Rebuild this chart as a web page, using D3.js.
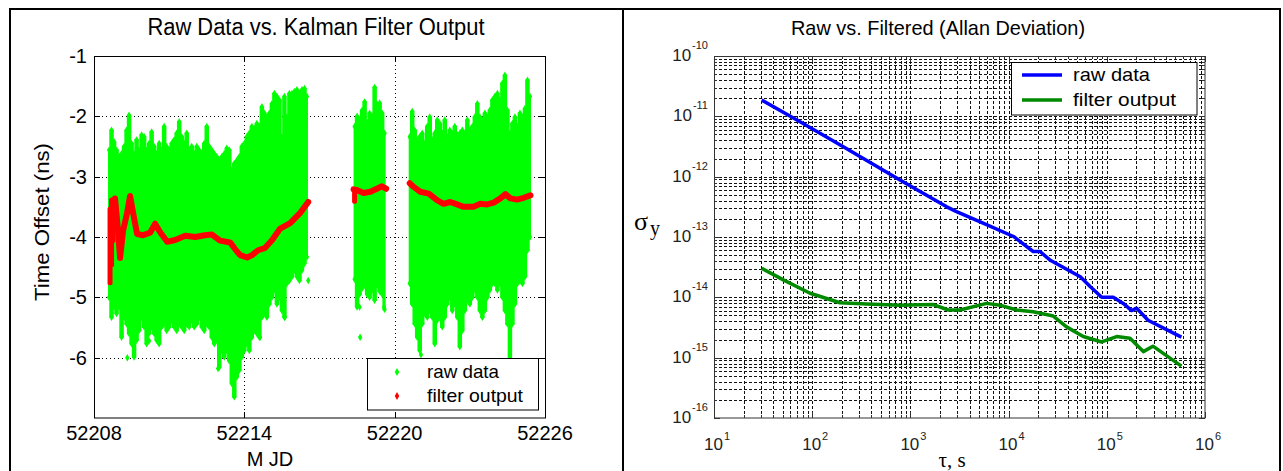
<!DOCTYPE html>
<html><head><meta charset="utf-8">
<script src="https://cdn.jsdelivr.net/npm/d3@7"></script>
<style>
body{margin:0;background:#fff;}
svg{display:block;font-family:Arial,"Liberation Sans",Helvetica,sans-serif;}
</style>
</head><body>
<svg id="c" width="1283" height="471"></svg>
<script>
// ---------- LEFT CHART DATA ----------
const xTicksL = [52208, 52214, 52220, 52226];
const yTicksL = [-6, -5, -4, -3, -2, -1];

// raw data envelope (MJD, upper value, lower value) in ns
const rawMjd = [
 52208.6,52208.7,52208.8,52208.9,
 52209.0,52209.1,52209.2,52209.3,52209.4,52209.5,52209.6,52209.7,52209.8,52209.9,
 52210.0,52210.1,52210.2,52210.3,52210.4,52210.5,52210.6,52210.7,52210.8,52210.9,
 52211.0,52211.1,52211.2,52211.3,52211.4,52211.5,52211.6,52211.7,52211.8,52211.9,
 52212.0,52212.1,52212.2,52212.3,52212.4,52212.5,52212.6,52212.7,52212.8,52212.9,
 52213.0,52213.1,52213.2,52213.3,52213.4,52213.5,52213.6,52213.7,52213.8,52213.9,
 52214.0,52214.1,52214.2,52214.3,52214.4,52214.5,52214.6,52214.7,52214.8,52214.9,
 52215.0,52215.1,52215.2,52215.3,52215.4,52215.5,52215.6,52215.7,52215.8,52215.9,
 52216.0,52216.1,52216.2,52216.3,52216.4,52216.5,
 52218.4,52218.5,52218.6,52218.7,52218.8,52218.9,52219.0,52219.1,52219.2,52219.3,52219.4,52219.5,52219.6,
 52220.6,52220.7,52220.8,52220.9,
 52221.0,52221.1,52221.2,52221.3,52221.4,52221.5,52221.6,52221.7,52221.8,52221.9,
 52222.0,52222.1,52222.2,52222.3,52222.4,52222.5,52222.6,52222.7,52222.8,52222.9,
 52223.0,52223.1,52223.2,52223.3,52223.4,52223.5,52223.6,52223.7,52223.8,52223.9,
 52224.0,52224.1,52224.2,52224.3,52224.4,52224.5,52224.6,52224.7,52224.8,52224.9,
 52225.0,52225.1,52225.2,52225.3,52225.4
];
const rawHi = [
 -2.56,-2.23,-2.42,-2.56,
 -2.67,-2.62,-2.50,-2.23,-1.98,-2.45,-2.62,-2.39,-2.56,-2.31,
 -2.34,-2.56,-2.45,-2.26,-2.50,-2.62,-2.45,-2.56,-2.17,-2.50,
 -2.56,-2.45,-2.39,-2.28,-2.09,-2.34,-2.45,-2.28,-2.56,-2.50,
 -2.62,-2.50,-2.56,-2.62,-2.45,-2.17,-2.50,-2.56,-2.62,-2.67,
 -2.73,-2.67,-2.62,-2.53,-2.56,-2.89,-2.78,-2.73,-2.67,-2.50,
 -2.45,-2.34,-2.28,-2.17,-2.20,-2.12,-2.17,-1.84,-1.95,-2.01,
 -1.95,-1.79,-1.62,-1.67,-1.73,-2.34,-1.67,-2.01,-1.62,-1.62,
 -1.59,-1.56,-1.62,-1.56,-1.54,-1.67,
 -2.17,-2.00,-2.06,-1.90,-1.76,-2.10,-1.95,-2.00,-1.52,-1.80,-1.78,-1.95,-2.28,
 -2.34,-1.92,-2.23,-2.39,
 -2.34,-2.28,-2.45,-2.17,-2.01,-2.39,-2.28,-2.06,-2.12,-2.28,
 -2.06,-2.34,-2.23,-2.28,-2.17,-2.31,-2.28,-2.23,-2.28,-2.06,
 -2.23,-2.17,-2.01,-1.79,-2.01,-2.06,-1.95,-2.01,-1.90,-1.73,
 -1.67,-1.62,-1.73,-1.45,-1.32,-1.90,-2.28,-2.12,-2.01,-2.17,
 -1.95,-2.01,-1.87,-1.40,-1.67
];
const rawLo = [
 -5.00,-5.33,-5.16,-5.27,
 -5.16,-5.66,-5.33,-5.44,-5.60,-5.77,-5.99,-5.71,-5.55,-5.33,
 -5.49,-5.77,-5.60,-5.49,-5.60,-5.71,-5.77,-5.49,-5.44,-5.55,
 -5.49,-5.38,-5.49,-5.55,-5.44,-5.49,-5.55,-5.44,-5.49,-5.38,
 -5.49,-5.44,-5.33,-5.49,-5.55,-5.44,-5.49,-5.66,-5.77,-5.71,
 -6.16,-5.88,-5.99,-5.88,-6.05,-6.43,-6.65,-6.32,-6.21,-5.99,
 -5.88,-5.77,-5.88,-5.66,-5.55,-5.60,-5.66,-5.33,-5.27,-5.33,
 -5.11,-5.00,-4.88,-5.11,-5.00,-5.22,-5.33,-4.77,-4.72,-4.66,
 -4.55,-4.66,-4.72,-4.55,-4.44,-4.33,
 -4.70,-5.16,-4.95,-4.85,-4.80,-4.95,-5.00,-4.88,-5.05,-4.80,-4.90,-4.95,-5.20,
 -4.77,-5.11,-5.44,-5.66,
 -5.88,-5.44,-5.27,-5.33,-5.22,-5.33,-5.77,-5.38,-5.33,-5.49,
 -5.33,-5.11,-5.00,-5.22,-5.11,-5.33,-5.82,-5.55,-5.22,-5.05,
 -5.11,-5.00,-4.88,-5.00,-5.22,-5.33,-5.22,-5.00,-4.88,-4.77,
 -4.77,-4.88,-4.77,-5.00,-5.22,-5.44,-5.99,-5.44,-5.11,-4.77,
 -4.72,-4.77,-4.66,-4.22,-4.00
];
// isolated raw points
const outMjd = [52209.33, 52210.2, 52212.95, 52214.63, 52215.62, 52216.55, 52218.62, 52218.6, 52219.58, 52221.05];
const outVal = [-6.00, -5.72, -6.18, -5.66, -5.33, -4.72, -5.66, -5.16, -5.16, -5.95];

// Kalman filter output (null = data gap)
const filtMjd = [
 52208.84,52208.96,52209.04,52209.16,52209.32,52209.44,52209.56,52209.72,52209.96,52210.24,
 52210.44,52210.64,52210.92,52211.24,52211.64,52212.04,52212.43,52212.71,52213.03,52213.43,
 52213.63,52213.83,52214.11,52214.31,52214.55,52214.83,52215.11,52215.43,52215.83,52216.23,52216.55,
 null,
 52218.36,52218.49,52218.76,52219.03,52219.29,52219.49,52219.66,
 null,
 52220.60,52220.76,52221.02,52221.36,52221.69,52221.95,52222.22,52222.49,52222.75,52223.15,
 52223.42,52223.69,52223.95,52224.22,52224.42,52224.62,52224.88,52225.15,52225.42
];
const filtVal = [
 -3.36,-3.90,-4.35,-3.90,-3.60,-3.32,-3.60,-3.95,-3.97,-3.93,
 -3.78,-3.92,-4.08,-4.05,-3.98,-4.00,-3.97,-3.96,-4.06,-4.09,
 -4.20,-4.30,-4.34,-4.30,-4.22,-4.18,-4.05,-3.86,-3.77,-3.60,-3.42,
 null,
 -3.21,-3.22,-3.27,-3.25,-3.20,-3.16,-3.20,
 null,
 -3.11,-3.17,-3.25,-3.28,-3.39,-3.45,-3.42,-3.46,-3.50,-3.50,
 -3.45,-3.46,-3.43,-3.36,-3.29,-3.36,-3.38,-3.35,-3.31
];
// filter start-up transient spread
const spanMjd = [52208.64, 52208.70, 52208.76, 52218.40];
const spanHi  = [-3.50, -3.35, -3.34, -3.20];
const spanLo  = [-4.80, -4.50, -4.10, -3.45];

// ---------- RIGHT CHART DATA ----------
const tauRaw = [30.6, 75.2, 207.5, 783, 2344, 2951, 5495, 11220, 17780, 20890, 26300, 53700, 67600, 88700, 116400, 147200, 179100, 201400, 263000, 575400];
const sigRaw = [1.86e-11, 8.13e-12, 3.14e-12, 8.81e-13, 3.16e-13, 2.63e-13, 1.70e-13, 1.02e-13, 5.75e-14, 5.75e-14, 4.17e-14, 2.19e-14, 1.51e-14, 1.0e-14, 1.0e-14, 7.94e-15, 6.03e-15, 6.61e-15, 4.17e-15, 2.19e-15];
const tauFilt = [30.6, 50.8, 95.1, 191.9, 358.9, 783, 1710, 2432, 3199, 5984, 8166, 12080, 17780, 28510, 38900, 57540, 88700, 125900, 172200, 235500, 295100, 575400];
const sigFilt = [3.02e-14, 1.95e-14, 1.17e-14, 8.13e-15, 7.76e-15, 7.41e-15, 7.59e-15, 6.17e-15, 6.17e-15, 7.94e-15, 7.41e-15, 6.17e-15, 5.75e-15, 4.90e-15, 3.24e-15, 2.24e-15, 1.82e-15, 2.24e-15, 2.09e-15, 1.26e-15, 1.55e-15, 7.24e-16];
const xExpR = [1, 2, 3, 4, 5, 6];
const yExpR = [-10, -11, -12, -13, -14, -15, -16];

// ---------- DRAW ----------
const svg = d3.select('#c');

// outer frames
const fr = svg.append('g').attr('stroke', '#000').attr('stroke-width', 2);
[[10,8,10,471],[9,9,1281,9],[623,8,623,471],[1280,8,1280,471]].forEach(l =>
  fr.append('line').attr('x1',l[0]).attr('y1',l[1]).attr('x2',l[2]).attr('y2',l[3]));

// ===== LEFT =====
const xL = d3.scaleLinear().domain([52208, 52226]).range([94, 545]);
const yL = d3.scaleLinear().domain([-7, -1]).range([418, 56]);
const gL = svg.append('g');

// dotted grid
const gridL = gL.append('g').attr('stroke', '#000').attr('stroke-width', 1)
  .attr('stroke-dasharray', '1,3').attr('shape-rendering', 'crispEdges');
gridL.selectAll('.vx').data(xTicksL.slice(1, -1)).join('line')
  .attr('x1', d => Math.round(xL(d)) + 0.5).attr('x2', d => Math.round(xL(d)) + 0.5)
  .attr('y1', yL(-7)).attr('y2', yL(-1));
gridL.selectAll('.hy').data(yTicksL.slice(0, -1)).join('line')
  .attr('y1', d => Math.round(yL(d)) + 0.5).attr('y2', d => Math.round(yL(d)) + 0.5)
  .attr('x1', xL(52208)).attr('x2', xL(52226));

// raw data: one filled step-area per contiguous block of samples
const raw = rawMjd.map((m, i) => ({m, hi: rawHi[i], lo: rawLo[i]}));
const blocks = [];
raw.forEach((d, i) => {
  if (i === 0 || d.m - raw[i - 1].m > 0.15) blocks.push([]);
  blocks[blocks.length - 1].push(d);
});
const GREEN = '#00ff00';
const gRaw = gL.append('g').attr('fill', GREEN);
const area = d3.area().curve(d3.curveStep).x(d => xL(d.m)).y0(d => yL(d.lo)).y1(d => yL(d.hi));
gRaw.selectAll('path.blk').data(blocks).join('path').attr('class', 'blk')
  .attr('d', area).attr('stroke', GREEN).attr('stroke-width', 2).attr('stroke-linejoin', 'round');
const dia = d3.symbol(d3.symbolDiamond, 16);
const ends = [];
raw.forEach(d => { ends.push([d.m, d.hi]); ends.push([d.m, d.lo]); });
outMjd.forEach((m, i) => ends.push([m, outVal[i]]));
gRaw.selectAll('path.pt').data(ends).join('path').attr('class', 'pt')
  .attr('d', dia).attr('transform', d => `translate(${xL(d[0])},${yL(d[1])})`);

// filter output
const RED = '#ff0000';
const filt = filtMjd.map((m, i) => ({m, v: filtVal[i]}));
const line = d3.line().defined(d => d.v !== null).x(d => xL(d.m)).y(d => yL(d.v));
gL.selectAll('.sp').data(spanMjd.map((m, i) => ({m, hi: spanHi[i], lo: spanLo[i]}))).join('rect')
  .attr('fill', RED).attr('x', d => xL(d.m) - 2.5).attr('width', 5)
  .attr('y', d => yL(d.hi)).attr('height', d => yL(d.lo) - yL(d.hi)).attr('rx', 2);
gL.append('path').datum(filt).attr('d', line).attr('fill', 'none').attr('stroke', RED)
  .attr('stroke-width', 6).attr('stroke-linejoin', 'round').attr('stroke-linecap', 'round');

// box & ticks
gL.append('rect').attr('x', 94.5).attr('y', 56.5).attr('width', 451).attr('height', 361.5)
  .attr('fill', 'none').attr('stroke', '#000').attr('stroke-width', 1);
const tk = gL.append('g').attr('stroke', '#000').attr('stroke-width', 1).attr('shape-rendering', 'crispEdges');
xTicksL.forEach(t => {
  const x = Math.round(xL(t)) + 0.5;
  tk.append('line').attr('x1', x).attr('x2', x).attr('y1', 418).attr('y2', 412);
  tk.append('line').attr('x1', x).attr('x2', x).attr('y1', 56).attr('y2', 62);
});
yTicksL.forEach(t => {
  const y = Math.round(yL(t)) + 0.5;
  tk.append('line').attr('x1', 94).attr('x2', 100).attr('y1', y).attr('y2', y);
  tk.append('line').attr('x1', 545).attr('x2', 539).attr('y1', y).attr('y2', y);
});
gL.selectAll('.xl').data(xTicksL).join('text')
  .attr('x', d => xL(d)).attr('y', 440).attr('text-anchor', 'middle')
  .attr('font-size', 20).text(d => d);
gL.selectAll('.yl').data(yTicksL).join('text')
  .attr('x', 87).attr('y', d => yL(d) + 7).attr('text-anchor', 'end')
  .attr('font-size', 20).text(d => d);
gL.append('text').attr('x', 316).attr('y', 35).attr('text-anchor', 'middle')
  .attr('font-size', 23).attr('textLength', 337).attr('lengthAdjust', 'spacingAndGlyphs')
  .text('Raw Data vs. Kalman Filter Output');
gL.append('text').attr('transform', 'translate(49,222) rotate(-90)').attr('text-anchor', 'middle')
  .attr('font-size', 21).attr('textLength', 158).attr('lengthAdjust', 'spacingAndGlyphs')
  .text('Time Offset (ns)');
gL.append('text').attr('x', 270).attr('y', 466).attr('text-anchor', 'middle')
  .attr('font-size', 20).attr('xml:space', 'preserve').text('M JD');

// legend
const lgL = gL.append('g');
lgL.append('rect').attr('x', 367.5).attr('y', 358.5).attr('width', 171).attr('height', 51.5)
  .attr('fill', '#fff').attr('stroke', '#000');
lgL.append('path').attr('d', d3.symbol(d3.symbolDiamond, 18)).attr('fill', GREEN).attr('transform', 'translate(397,372)');
lgL.append('path').attr('d', d3.symbol(d3.symbolDiamond, 18)).attr('fill', RED).attr('transform', 'translate(397,396)');
lgL.append('text').attr('x', 427).attr('y', 378).attr('font-size', 19).attr('textLength', 72).attr('lengthAdjust','spacingAndGlyphs').text('raw data');
lgL.append('text').attr('x', 427).attr('y', 402).attr('font-size', 19).attr('textLength', 96).attr('lengthAdjust','spacingAndGlyphs').text('filter output');

// ===== RIGHT =====
const xR = d3.scaleLog().domain([10, 1e6]).range([714, 1205]);
const yR = d3.scaleLog().domain([1e-16, 1e-10]).range([418, 56]);
const gR = svg.append('g');
const isMajor = v => Math.abs(Math.log10(v) - Math.round(Math.log10(v))) < 1e-6;

const gridR = gR.append('g').attr('stroke', '#111').attr('stroke-width', 1)
  .attr('stroke-dasharray', '3,2').attr('shape-rendering', 'crispEdges');
gridR.selectAll('.v').data(xR.ticks().filter(v => v > 10 && v < 1e6)).join('line')
  .attr('x1', d => Math.round(xR(d)) + 0.5).attr('x2', d => Math.round(xR(d)) + 0.5)
  .attr('y1', 56).attr('y2', 418);
gridR.selectAll('.h').data(yR.ticks().filter(v => v > 1.0001e-16 && v < 0.9999e-10)).join('line')
  .attr('y1', d => Math.round(yR(d)) + 0.5).attr('y2', d => Math.round(yR(d)) + 0.5)
  .attr('x1', 714).attr('x2', 1205);

const lineR = d3.line().x(d => xR(d[0])).y(d => yR(d[1]));
gR.append('path').datum(tauRaw.map((t, i) => [t, sigRaw[i]])).attr('d', lineR)
  .attr('fill', 'none').attr('stroke', '#0000ff').attr('stroke-width', 3.5).attr('stroke-linejoin', 'round');
gR.append('path').datum(tauFilt.map((t, i) => [t, sigFilt[i]])).attr('d', lineR)
  .attr('fill', 'none').attr('stroke', '#008a00').attr('stroke-width', 3.5).attr('stroke-linejoin', 'round');

gR.append('rect').attr('x', 714.5).attr('y', 56.5).attr('width', 490.5).attr('height', 361.5)
  .attr('fill', 'none').attr('stroke', '#333');
const tkR = gR.append('g').attr('stroke', '#333').attr('shape-rendering', 'crispEdges');
xR.ticks().forEach(v => {
  const x = Math.round(xR(v)) + 0.5, L = isMajor(v) ? 6 : 3;
  tkR.append('line').attr('x1', x).attr('x2', x).attr('y1', 418).attr('y2', 418 - L);
  tkR.append('line').attr('x1', x).attr('x2', x).attr('y1', 56).attr('y2', 56 + L);
});
yR.ticks().forEach(v => {
  const y = Math.round(yR(v)) + 0.5, L = isMajor(v) ? 6 : 3;
  tkR.append('line').attr('x1', 714).attr('x2', 714 + L).attr('y1', y).attr('y2', y);
  tkR.append('line').attr('x1', 1205).attr('x2', 1205 - L).attr('y1', y).attr('y2', y);
});

// tick labels
yExpR.forEach(e => {
  const y = yR(Math.pow(10, e));
  const t = gR.append('text').attr('x', 708).attr('y', y + 5).attr('text-anchor', 'end').attr('fill', '#222');
  t.append('tspan').attr('font-size', 17).text('10');
  t.append('tspan').attr('font-size', 11).attr('dy', -12).attr('dx', 1).text(e);
});
xExpR.forEach(e => {
  const x = xR(Math.pow(10, e));
  const t = gR.append('text').attr('x', x - 10).attr('y', 450).attr('fill', '#222');
  t.append('tspan').attr('font-size', 17).text('10');
  t.append('tspan').attr('font-size', 11).attr('dy', -10).attr('dx', 1).text(e);
});
gR.append('text').attr('x', 938).attr('y', 35).attr('text-anchor', 'middle')
  .attr('font-size', 21).attr('textLength', 294).attr('lengthAdjust', 'spacingAndGlyphs')
  .text('Raw vs. Filtered (Allan Deviation)');
const sl = gR.append('text').attr('x', 634).attr('y', 230).attr('font-family', '"Liberation Serif","DejaVu Serif",serif');
sl.append('tspan').attr('font-size', 26).text('σ');
sl.append('tspan').attr('font-size', 20).attr('dx', 2).attr('dy', 5).text('y');
gR.append('text').attr('x', 952).attr('y', 467).attr('text-anchor', 'middle')
  .attr('font-family', '"Liberation Serif","DejaVu Serif",serif').attr('font-size', 21).text('τ, s');

// legend
const lgR = gR.append('g');
lgR.append('rect').attr('x', 1011.5).attr('y', 62.5).attr('width', 185.5).attr('height', 52.5)
  .attr('fill', '#fff').attr('stroke', '#000');
lgR.append('line').attr('x1', 1022).attr('x2', 1062).attr('y1', 75).attr('y2', 75).attr('stroke', '#0000ff').attr('stroke-width', 3.5);
lgR.append('line').attr('x1', 1022).attr('x2', 1062).attr('y1', 100).attr('y2', 100).attr('stroke', '#008a00').attr('stroke-width', 3.5);
lgR.append('text').attr('x', 1073).attr('y', 81).attr('font-size', 19).attr('textLength', 77).attr('lengthAdjust','spacingAndGlyphs').text('raw data');
lgR.append('text').attr('x', 1073).attr('y', 106).attr('font-size', 19).attr('textLength', 103).attr('lengthAdjust','spacingAndGlyphs').text('filter output');
</script>
</body></html>
